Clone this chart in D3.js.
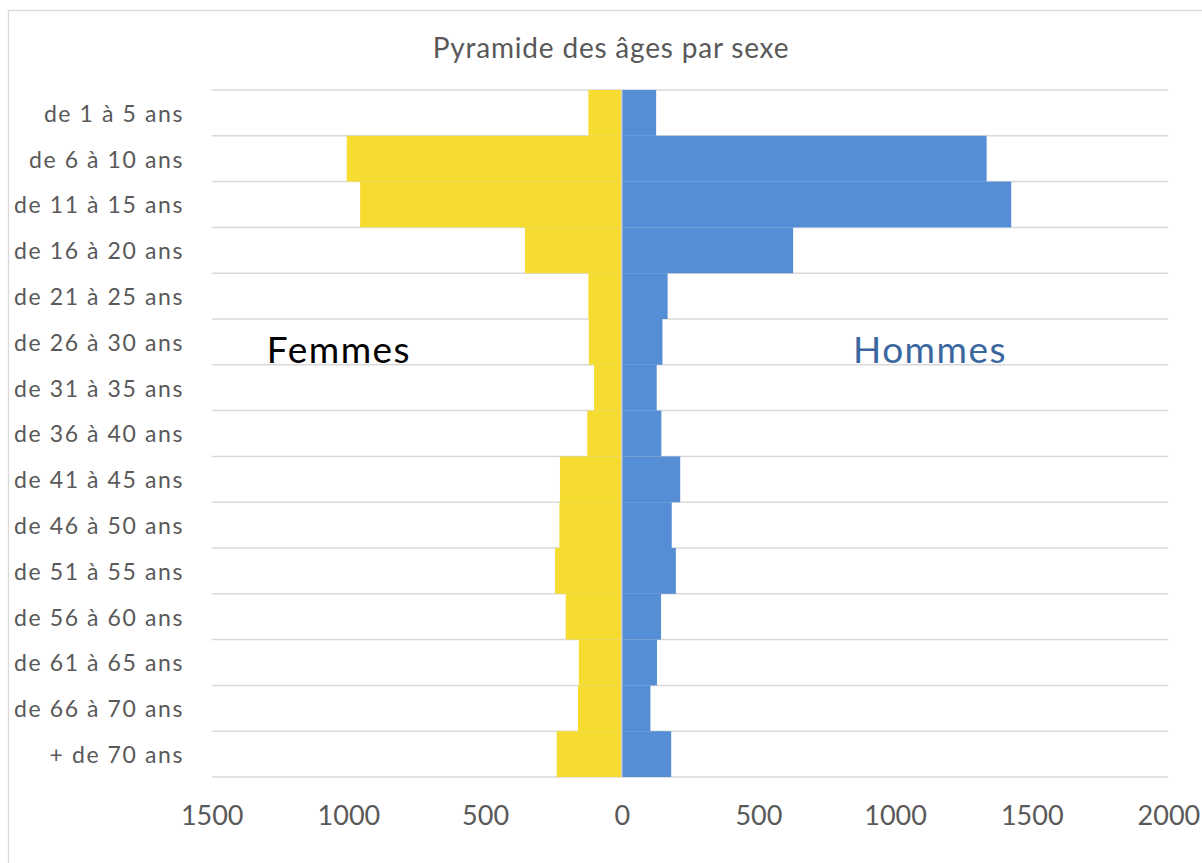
<!DOCTYPE html>
<html><head><meta charset="utf-8">
<script src="https://cdn.jsdelivr.net/npm/d3@7"></script>
<style>body{margin:0;background:#fff;} svg{display:block;}</style>
</head><body>
<svg id="c" width="1202" height="863"></svg>
<script>
const categories = ["de 1 à 5 ans","de 6 à 10 ans","de 11 à 15 ans","de 16 à 20 ans","de 21 à 25 ans","de 26 à 30 ans","de 31 à 35 ans","de 36 à 40 ans","de 41 à 45 ans","de 46 à 50 ans","de 51 à 55 ans","de 56 à 60 ans","de 61 à 65 ans","de 66 à 70 ans","+ de 70 ans"];
const femmes = [122,1006,957,354,122,120,101,126,226,228,244,205,157,160,238];
const hommes = [126,1335,1425,627,168,149,128,145,214,183,198,144,129,105,181];
const tickValues = [-1500,-1000,-500,0,500,1000,1500,2000];
const title = "Pyramide des âges par sexe";

const svg = d3.select("#c");
const font = "Lato, 'Open Sans', sans-serif";
const x = d3.scaleLinear().domain([-1500,2000]).range([211.7,1168.4]);
const y = d3.scaleBand().domain(categories).range([90,777]).padding(0);

// outer border
svg.append("rect").attr("x",8.5).attr("y",10.5).attr("width",1200).attr("height",860)
  .attr("fill","none").attr("stroke","#d9d9d9").attr("stroke-width",1.3);

// title
svg.append("text").attr("x",611).attr("y",58).attr("text-anchor","middle")
  .attr("font-family",font).attr("font-size",28).attr("letter-spacing",0.8)
  .attr("fill","#595959").text(title);

// gridlines
const bounds = categories.map(c=>y(c)).concat([y.range()[1]]);
svg.append("g").selectAll("line").data(bounds).join("line")
  .attr("x1",x.range()[0]).attr("x2",x.range()[1])
  .attr("y1",d=>d).attr("y2",d=>d)
  .attr("stroke","#d9d9d9").attr("stroke-width",1.5);

// bars
svg.append("g").selectAll("rect").data(categories).join("rect")
  .attr("x",(d,i)=>x(-femmes[i])).attr("width",(d,i)=>x(0)-x(-femmes[i]))
  .attr("y",d=>y(d)).attr("height",y.bandwidth())
  .attr("fill","#F6DC31");
svg.append("g").selectAll("rect").data(categories).join("rect")
  .attr("x",x(0)).attr("width",(d,i)=>x(hommes[i])-x(0))
  .attr("y",d=>y(d)).attr("height",y.bandwidth())
  .attr("fill","#558ED5");

// zero axis line
svg.append("line").attr("x1",x(0)).attr("x2",x(0)).attr("y1",90).attr("y2",777)
  .attr("stroke","#d0d0d0").attr("stroke-width",1.5);

// category labels
svg.append("g").selectAll("text").data(categories).join("text")
  .attr("x",184).attr("y",d=>y(d)+y.bandwidth()/2+8.8)
  .attr("text-anchor","end").attr("font-family",font).attr("font-size",23)
  .attr("letter-spacing",1.6)
  .attr("fill","#595959").text(d=>d);

// x axis tick labels
const xAxis = d3.axisBottom(x).tickValues(tickValues).tickSize(0).tickPadding(0)
  .tickFormat(d=>String(Math.abs(d)));
const gx = svg.append("g").attr("transform","translate(0,825)").call(xAxis);
gx.select(".domain").remove();
gx.selectAll("text").attr("font-family",font).attr("font-size",27).attr("fill","#595959")
  .attr("dy","0");

// annotations
svg.append("text").attr("x",339).attr("y",363).attr("text-anchor","middle")
  .attr("font-family",font).attr("font-size",37).attr("letter-spacing",1.5)
  .attr("fill","#000").text("Femmes");
svg.append("text").attr("x",930).attr("y",363).attr("text-anchor","middle")
  .attr("font-family",font).attr("font-size",37).attr("letter-spacing",1.5)
  .attr("fill","#3B679F").text("Hommes");
</script>
</body></html>
